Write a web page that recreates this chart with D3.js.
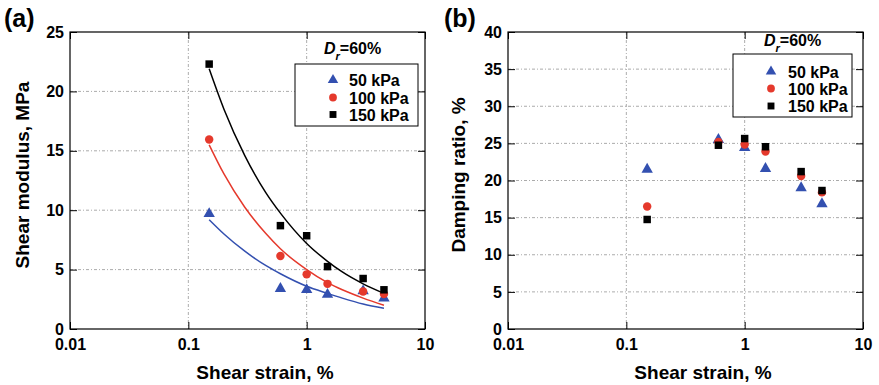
<!DOCTYPE html>
<html>
<head>
<meta charset="utf-8">
<script src="https://cdn.jsdelivr.net/npm/d3@7"></script>
<style>
html,body{margin:0;padding:0;background:#fff;}
svg{display:block;font-family:"Liberation Sans",Arial,sans-serif;font-weight:bold;}
</style>
</head>
<body>
<svg id="chart" width="879" height="385"></svg>
<script>
// ---- data ----
const xTicks = [0.01, 0.1, 1, 10];
const xTickLabels = ["0.01", "0.1", "1", "10"];
const gTicks = [0, 5, 10, 15, 20, 25];
const dTicks = [0, 5, 10, 15, 20, 25, 30, 35, 40];
const seriesNames = ["50 kPa", "100 kPa", "150 kPa"];
const strain = [0.15, 0.6, 1, 1.5, 3, 4.5];
const G50 = [9.7, 3.4, 3.3, 2.9, 3.2, 2.6];
const G100 = [15.95, 6.15, 4.6, 3.8, 3.15, 2.95];
const G150 = [22.3, 8.7, 7.85, 5.25, 4.25, 3.3];
const D50 = [21.5, 25.5, 24.4, 21.6, 19.0, 16.85];
const D100 = [16.5, 25.2, 24.85, 23.9, 20.6, 18.4];
const D150 = [14.75, 24.75, 25.65, 24.55, 21.2, 18.65];
// fitted trend curves
const fitStrain = [0.15, 0.2, 0.3, 0.45, 0.6, 1, 1.5, 2, 3, 4.5];
const fit50 = [9.2, 8.0, 6.55, 5.35, 4.65, 3.6, 3.0, 2.6, 2.1, 1.75];
const fit100 = [15.5, 13.05, 10.25, 8.05, 6.75, 5.0, 3.9, 3.3, 2.6, 2.0];
const fit150 = [21.9, 18.5, 14.6, 11.5, 9.75, 7.2, 5.7, 4.8, 3.8, 3.0];

const colors = ["#3350b0", "#e5392c", "#000000"];
const symbols = [d3.symbolTriangle, d3.symbolCircle, d3.symbolSquare];
const symSizes = [56, 56, 56];

const svg = d3.select("#chart");

function panel(cfg) {
  const {left, right, top, bottom, yMax, yTicks, ySeries, fits, yLabel, tag, tagX, legend, drText, ylabX, xlabX} = cfg;
  const x = d3.scaleLog().domain([0.01, 10]).range([left, right]);
  const y = d3.scaleLinear().domain([0, yMax]).range([bottom, top]);
  const g = svg.append("g");

  // grid
  const grid = g.append("g").attr("stroke", "#959595").attr("stroke-width", 0.8)
    .attr("stroke-dasharray", "3,2,1,2");
  xTicks.slice(1, -1).forEach(v => grid.append("line")
    .attr("x1", x(v)).attr("x2", x(v)).attr("y1", top).attr("y2", bottom));
  yTicks.slice(1, -1).forEach(v => grid.append("line")
    .attr("x1", left).attr("x2", right).attr("y1", y(v)).attr("y2", y(v)));

  // axes
  const fmtX = (d) => xTickLabels[xTicks.indexOf(d)];
  const ax = g.append("g").attr("transform", `translate(0,${bottom})`)
    .call(d3.axisBottom(x).tickValues(xTicks).tickFormat(fmtX).tickSize(-7).tickSizeOuter(0).tickPadding(9.6));
  const ay = g.append("g").attr("transform", `translate(${left},0)`)
    .call(d3.axisLeft(y).tickValues(yTicks).tickFormat(d3.format("d")).tickSize(-7).tickSizeOuter(0).tickPadding(6));
  const at = g.append("g").attr("transform", `translate(0,${top})`)
    .call(d3.axisTop(x).tickValues(xTicks).tickFormat("").tickSize(-7).tickSizeOuter(0));
  const ar = g.append("g").attr("transform", `translate(${right},0)`)
    .call(d3.axisRight(y).tickValues(yTicks).tickFormat("").tickSize(-7).tickSizeOuter(0));
  [ax, ay, at, ar].forEach(a => {
    a.select(".domain").remove();
    a.selectAll("line").attr("stroke", "#000").attr("stroke-width", 1);
    a.selectAll("text").attr("font-family", "Liberation Sans, Arial, sans-serif")
      .attr("font-weight", "bold").attr("font-size", 16).attr("fill", "#000");
  });

  // fitted curves
  if (fits) {
    const line = d3.line().x(d => x(d[0])).y(d => y(d[1])).curve(d3.curveMonotoneX);
    fits.forEach((f, i) => {
      g.append("path").datum(fitStrain.map((s, j) => [s, f[j]]))
        .attr("d", line).attr("fill", "none").attr("stroke", colors[i]).attr("stroke-width", 1.5);
    });
  }

  // points
  ySeries.forEach((vals, i) => {
    g.append("g").selectAll("path").data(strain.map((s, j) => [s, vals[j]])).join("path")
      .attr("d", d3.symbol().type(symbols[i]).size(symSizes[i]))
      .attr("transform", d => `translate(${x(d[0])},${y(d[1])})`)
      .attr("fill", colors[i]);
  });

  // frame
  g.append("rect").attr("x", left).attr("y", top).attr("width", right - left).attr("height", bottom - top)
    .attr("fill", "none").attr("stroke", "#000").attr("stroke-width", 1.2);

  // legend
  g.append("rect").attr("x", legend.x).attr("y", legend.y).attr("width", legend.w).attr("height", legend.h)
    .attr("fill", "#fff").attr("stroke", "#000").attr("stroke-width", 1);
  seriesNames.forEach((n, i) => {
    const cy = legend.rowY[i];
    g.append("path").attr("d", d3.symbol().type(symbols[i]).size(symSizes[i] * 0.85)())
      .attr("transform", `translate(${legend.symX},${cy})`).attr("fill", colors[i]);
    g.append("text").attr("x", legend.textX).attr("y", cy + 6).attr("font-size", 16).text(n);
  });

  // Dr = 60%
  const dr = g.append("text").attr("x", drText.x).attr("y", drText.y).attr("font-size", 16);
  dr.append("tspan").attr("font-style", "italic").text("D");
  dr.append("tspan").attr("font-style", "italic").attr("font-size", 11).attr("dy", 6).attr("dx", 0).text("r");
  dr.append("tspan").attr("dy", -6).attr("dx", drText.gap).text("=60%");

  // labels
  g.append("text").attr("x", tagX).attr("y", 27).attr("font-size", 25).text(tag);
  g.append("text").attr("transform", `translate(${ylabX},175) rotate(-90)`).attr("text-anchor", "middle")
    .attr("font-size", 19).text(yLabel);
  g.append("text").attr("x", xlabX).attr("y", 379).attr("text-anchor", "middle")
    .attr("font-size", 19).text("Shear strain, %");
}

panel({
  left: 70, right: 425, top: 32, bottom: 329, yMax: 25, yTicks: gTicks,
  ySeries: [G50, G100, G150], fits: [fit50, fit100, fit150],
  yLabel: "Shear modulus, MPa", tag: "(a)", tagX: 4, ylabX: 29, xlabX: 265,
  legend: {x: 295, y: 64, w: 123, h: 62, symX: 333, textX: 349, rowY: [80, 97.5, 114.5]},
  drText: {x: 324, y: 53.5, gap: 0}
});
panel({
  left: 508, right: 863, top: 32, bottom: 329, yMax: 40, yTicks: dTicks,
  ySeries: [D50, D100, D150], fits: null,
  yLabel: "Damping ratio, %", tag: "(b)", tagX: 444, ylabX: 465, xlabX: 703,
  legend: {x: 733, y: 54, w: 119, h: 63, symX: 771, textX: 788, rowY: [71.5, 88.5, 106]},
  drText: {x: 764, y: 46, gap: 0}
});
</script>
</body>
</html>
